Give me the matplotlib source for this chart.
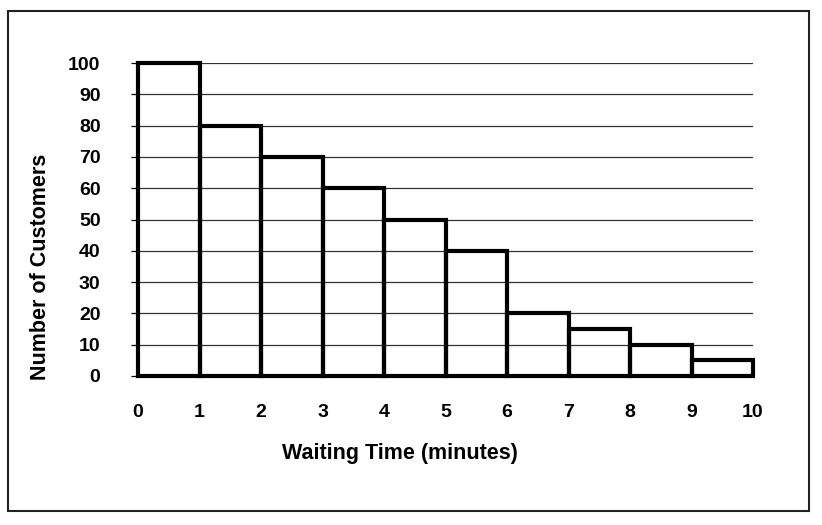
import numpy as np
import matplotlib
matplotlib.use("Agg")
import matplotlib.pyplot as plt
from matplotlib.patches import Rectangle

# waiting-time histogram, bins of 1 minute
bin_edges = [0, 1, 2, 3, 4, 5, 6, 7, 8, 9, 10]
customers = [100, 80, 70, 60, 50, 40, 20, 15, 10, 5]
y_ticks = [0, 10, 20, 30, 40, 50, 60, 70, 80, 90, 100]

plt.rcParams["font.family"] = ["Liberation Sans", "DejaVu Sans"]
plt.rcParams["font.weight"] = "bold"

fig = plt.figure(figsize=(8.22, 5.25), dpi=100)
ax = fig.add_axes([138 / 822, 1 - 376 / 525, 615 / 822, 313 / 525])

ax.bar(bin_edges[:-1], customers, width=1, align="edge", fill=False,
       edgecolor="black", linewidth=3, zorder=3, clip_on=False)

ax.set_xlim(bin_edges[0], bin_edges[-1])
ax.set_ylim(0, 100)
ax.set_xticks(bin_edges)
ax.set_yticks(y_ticks)
ax.yaxis.grid(True, color="#333333", lw=0.9, zorder=1)
ax.set_axisbelow(True)
for s in ax.spines.values():
    s.set_visible(False)
ax.tick_params(axis="x", length=0, pad=20, labelsize=14)
ax.tick_params(axis="y", length=5, width=0.9, direction="out", pad=22,
               labelsize=14)
for lab in ax.get_xticklabels() + ax.get_yticklabels():
    lab.set_fontweight("bold")

fig.text(400 / 822, 1 - 454 / 525, "Waiting Time (minutes)",
         ha="center", va="center", fontsize=15.5, fontweight="bold")
fig.text(41 / 822, 1 - 267 / 525, "Number of Customers", rotation=90,
         ha="center", va="center", fontsize=15.5, fontweight="bold")

# outer frame around the whole chart
fig.patches.append(Rectangle((8 / 822, 1 - 511 / 525), 801 / 822, 500 / 525,
                             transform=fig.transFigure, fill=False,
                             edgecolor="#222222", linewidth=1.5))

fig.savefig("out.png", dpi=100)
